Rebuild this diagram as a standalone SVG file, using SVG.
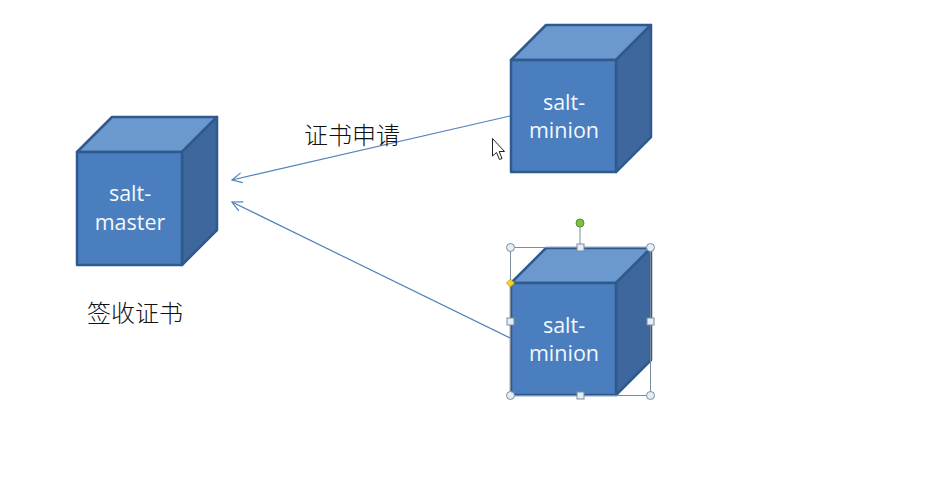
<svg xmlns="http://www.w3.org/2000/svg" width="942" height="501" viewBox="0 0 942 501">
<style>
.front{fill:#4a7ebe;stroke:#2f5a8e;stroke-width:2.5;stroke-linejoin:round}
.top{fill:#6b98cf;stroke:#2f5a8e;stroke-width:2.5;stroke-linejoin:round}
.side{fill:#3d679d;stroke:#2f5a8e;stroke-width:2.5;stroke-linejoin:round}
.lbl{font-family:"Open Sans","Liberation Sans",sans-serif;font-size:21.5px;fill:#f4f7fb;text-anchor:middle}
.cn{font-family:"Noto Sans CJK SC","Noto Sans CJK JP",sans-serif;font-size:24px;fill:#111111;font-weight:300}
.conn{stroke:#4f81bd;stroke-width:1.2;fill:none}
.hc{fill:#e4eef6;stroke:#7d8d9c;stroke-width:1}
.hs{fill:#e4eef6;stroke:#7d8d9c;stroke-width:1}
</style>
<defs>
<marker id="open" markerWidth="12" markerHeight="12" refX="11" refY="6" orient="auto" markerUnits="userSpaceOnUse">
<path d="M1,1 L11,6 L1,11" fill="none" stroke="#4f81bd" stroke-width="1.2"/>
</marker>
</defs>
<rect width="942" height="501" fill="#ffffff"/>
<g id="connectors">
<line class="conn" x1="510" y1="116" x2="232" y2="180" marker-end="url(#open)"/>
<line class="conn" x1="510" y1="338" x2="232" y2="202" marker-end="url(#open)"/>
</g>
<g id="master">
<polygon class="top" points="77,152 112,117 217,117 182,152"/>
<polygon class="side" points="182,152 217,117 217,230 182,265"/>
<rect class="front" x="77" y="152" width="105" height="113"/>
<text class="lbl" x="130" y="201">salt-</text>
<text class="lbl" x="130" y="230">master</text>
</g>
<g id="minion1">
<polygon class="top" points="511,60 546,25 651,25 616,60"/>
<polygon class="side" points="616,60 651,25 651,137 616,172"/>
<rect class="front" x="511" y="60" width="105" height="112"/>
<text class="lbl" x="564" y="110">salt-</text>
<text class="lbl" x="564" y="138">minion</text>
</g>
<g id="minion2">
<polygon class="top" points="511,283 546,248 651,248 616,283"/>
<polygon class="side" points="616,283 651,248 651,360 616,395"/>
<rect class="front" x="511" y="283" width="105" height="112"/>
<text class="lbl" x="564" y="333">salt-</text>
<text class="lbl" x="564" y="361">minion</text>
</g>
<g id="selection">
<rect x="510.5" y="247.5" width="140" height="148" fill="none" stroke="#7d8d9c" stroke-width="1"/>
<line x1="580" y1="247" x2="580" y2="227" stroke="#7d8d9c" stroke-width="1"/>
<circle cx="580" cy="223" r="4" fill="#7cc242" stroke="#5a8f30" stroke-width="1"/>
<circle class="hc" cx="510.5" cy="247.5" r="4"/>
<circle class="hc" cx="650.5" cy="247.5" r="4"/>
<circle class="hc" cx="510.5" cy="395.5" r="4"/>
<circle class="hc" cx="650.5" cy="395.5" r="4"/>
<rect class="hs" x="577" y="244" width="7" height="7"/>
<rect class="hs" x="577" y="392" width="7" height="7"/>
<rect class="hs" x="507" y="318" width="7" height="7"/>
<rect class="hs" x="647" y="318" width="7" height="7"/>
<polygon points="510.5,279 514.5,283 510.5,287 506.5,283" fill="#f5d327" stroke="#b59a10" stroke-width="0.8"/>
</g>
<g id="labels">
<text class="cn" x="304" y="144">证书申请</text>
<text class="cn" x="87" y="322">签收证书</text>
</g>
<g id="cursor">
<polygon points="492.5,138.5 492.5,156 496.5,152.5 499.5,159.5 502,158.5 499.2,151.5 504.5,151.5" fill="#ffffff" stroke="#222222" stroke-width="1"/>
</g>
</svg>
